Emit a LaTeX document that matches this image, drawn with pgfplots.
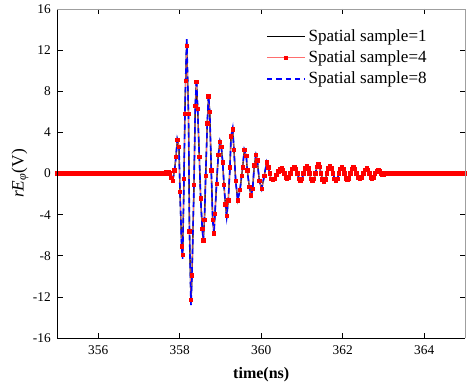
\documentclass[border=0pt]{standalone}
\usepackage{pgfplots}
\pgfplotsset{compat=1.18}
\usepackage{pgfplotstable}
\usepackage{fontspec}
\setmainfont{Liberation Serif}
\definecolor{pinkline}{RGB}{255,110,110}

\pgfplotstableread[row sep=\\]{
t s1 s4 s8 \\
355.000 0 0 0 \\ 355.025 0 0 0 \\ 355.050 0 0 0 \\ 355.075 0 0 0 \\
355.100 0 0 0 \\ 355.125 0 0 0 \\ 355.150 0 0 0 \\ 355.175 0 0 0 \\
355.200 0 0 0 \\ 355.225 0 0 0 \\ 355.250 0 0 0 \\ 355.275 0 0 0 \\
355.300 0 0 0 \\ 355.325 0 0 0 \\ 355.350 0 0 0 \\ 355.375 0 0 0 \\
355.400 0 0 0 \\ 355.425 0 0 0 \\ 355.450 0 0 0 \\ 355.475 0 0 0 \\
355.500 0 0 0 \\ 355.525 0 0 0 \\ 355.550 0 0 0 \\ 355.575 0 0 0 \\
355.600 0 0 0 \\ 355.625 0 0 0 \\ 355.650 0 0 0 \\ 355.675 0 0 0 \\
355.700 0 0 0 \\ 355.725 0 0 0 \\ 355.750 0 0 0 \\ 355.775 0 0 0 \\
355.800 0 0 0 \\ 355.825 0 0 0 \\ 355.850 0 0 0 \\ 355.875 0 0 0 \\
355.900 0 0 0 \\ 355.925 0 0 0 \\ 355.950 0 0 0 \\ 355.975 0 0 0 \\
356.000 0 0 0 \\ 356.025 0 0 0 \\ 356.050 0 0 0 \\ 356.075 0 0 0 \\
356.100 0 0 0 \\ 356.125 0 0 0 \\ 356.150 0 0 0 \\ 356.175 0 0 0 \\
356.200 0 0 0 \\ 356.225 0 0 0 \\ 356.250 0 0 0 \\ 356.275 0 0 0 \\
356.300 0 0 0 \\ 356.325 0 0 0 \\ 356.350 0 0 0 \\ 356.375 0 0 0 \\
356.400 0 0 0 \\ 356.425 0 0 0 \\ 356.450 0 0 0 \\ 356.475 0 0 0 \\
356.500 0 0 0 \\ 356.525 0 0 0 \\ 356.550 0 0 0 \\ 356.575 0 0 0 \\
356.600 0 0 0 \\ 356.625 0 0 0 \\ 356.650 0 0 0 \\ 356.675 0 0 0 \\
356.700 0 0 0 \\ 356.725 0 0 0 \\ 356.750 0 0 0 \\ 356.775 0 0 0 \\
356.800 0 0 0 \\ 356.825 0 0 0 \\ 356.850 0 0 0 \\ 356.875 0 0 0 \\
356.900 0 0 0 \\ 356.925 0 0 0 \\ 356.950 0 0 0 \\ 356.975 0 0 0 \\
357.000 0 0 0 \\ 357.025 0 0 0 \\ 357.050 0 0 0 \\ 357.075 0 0 0 \\
357.100 0 0 0 \\ 357.125 0 0 0 \\ 357.150 0 0 0 \\ 357.175 0 0 0 \\
357.200 0 0 0 \\ 357.225 0 0 0 \\ 357.250 0 0 0 \\ 357.275 0 0 0 \\
357.300 0 0 0 \\ 357.325 0 0 0 \\ 357.350 0 0 0 \\ 357.375 0 0 0 \\
357.400 0 0 0 \\ 357.425 0 0 0 \\ 357.450 0 0 0 \\ 357.475 0 0 0 \\
357.500 0 0 0 \\ 357.525 0 0 0 \\ 357.550 0 0 0 \\ 357.575 0 0 0 \\
357.600 0 0 0 \\ 357.620 0.02 0.02 0.02 \\
357.640 0.05 0.05 0.05 \\ 357.660 0.1 0.1 0.1 \\
357.680 0.15 0.15 0.15 \\ 357.715 0.1 0.1 0.1 \\
357.748 0.0 0.0 0.0 \\ 357.790 -0.4 -0.4 -0.4 \\
357.827 -0.7 -0.7 -0.7 \\
357.871 0.3 0.3 0.3 \\
357.908 1.6 1.6 1.6 \\
357.940 3.3 3.3 3.3 \\
357.982 2.6 2.6 2.6 \\
358.006 -1.8 -1.8 -1.8 \\
358.048 -7.1 -7.1 -7.1 \\
358.072 -8.1 -7.9 -8.3 \\
358.104 -0.5 -0.5 -0.5 \\
358.127 5.8 5.8 5.8 \\
358.144 9.0 9.0 9.0 \\
358.171 12.8 12.4 13.2 \\
358.215 5.8 5.8 5.8 \\
358.239 -5.6 -5.6 -5.6 \\
358.276 -12.6 -12.3 -12.8 \\
358.301 -9.9 -9.9 -9.9 \\
358.350 -1.1 -1.1 -1.1 \\
358.382 6.6 6.6 6.6 \\
358.411 9.0 8.9 9.2 \\
358.440 6.3 6.3 6.3 \\
358.480 1.6 1.6 1.6 \\
358.514 -2.4 -2.4 -2.4 \\
358.553 -5.4 -5.4 -5.4 \\
358.578 -6.5 -6.5 -6.5 \\
358.607 -4.5 -4.5 -4.5 \\
358.637 -0.2 -0.2 -0.2 \\
358.676 4.9 4.9 4.9 \\
358.706 7.5 7.5 7.6 \\
358.737 6.0 6.0 6.0 \\
358.774 0.3 0.3 0.3 \\
358.809 -4.5 -4.5 -4.5 \\
358.840 -5.8 -5.8 -5.9 \\
358.865 -3.9 -3.9 -3.9 \\
358.904 -1.0 -1.0 -1.0 \\
358.946 1.8 1.8 1.8 \\
358.988 3.1 3.1 3.1 \\
359.020 2.6 2.6 2.6 \\
359.054 1.1 1.1 1.1 \\
359.086 -1.1 -1.1 -1.1 \\
359.120 -3.0 -3.0 -3.0 \\
359.152 -4.1 -4.1 -4.2 \\
359.191 -2.6 -2.6 -2.6 \\
359.233 0.6 0.6 0.6 \\
359.258 3.6 3.6 3.6 \\
359.299 4.3 4.3 4.4 \\
359.331 2.3 2.3 2.3 \\
359.373 -0.7 -0.7 -0.7 \\
359.422 -2.6 -2.6 -2.6 \\
359.479 -1.6 -1.6 -1.6 \\
359.520 -0.2 -0.2 -0.2 \\
359.545 0.6 0.6 0.6 \\
359.584 2.3 2.3 2.3 \\
359.633 1.7 1.7 1.7 \\
359.658 0.3 0.3 0.3 \\
359.707 -1.3 -1.3 -1.3 \\
359.748 -2.1 -2.1 -2.1 \\
359.790 -1.5 -1.5 -1.5 \\
359.829 0.8 0.8 0.8 \\
359.871 1.8 1.8 1.8 \\
359.903 1.3 1.3 1.3 \\
359.952 -0.7 -0.7 -0.7 \\
360.011 -1.5 -1.5 -1.5 \\
360.075 -0.2 -0.2 -0.2 \\
360.134 1.1 1.1 1.1 \\
360.173 0.6 0.6 0.6 \\
360.205 0.0 0.0 0.0 \\
360.239 -0.5 -0.5 -0.5 \\
360.280 -0.55 -0.55 -0.55 \\
360.320 -0.5 -0.5 -0.5 \\
360.370 -0.15 -0.15 -0.15 \\
360.418 0.2 0.2 0.2 \\
360.460 0.4 0.4 0.4 \\
360.502 0.5 0.5 0.5 \\
360.536 0.3 0.3 0.3 \\
360.571 0.0 0.0 0.0 \\
360.600 -0.35 -0.35 -0.35 \\
360.632 -0.5 -0.5 -0.5 \\
360.675 -0.35 -0.35 -0.35 \\
360.718 0.0 0.0 0.0 \\
360.765 0.45 0.45 0.45 \\
360.811 0.6 0.6 0.6 \\
360.850 0.45 0.45 0.45 \\
360.890 0.0 0.0 0.0 \\
360.927 -0.5 -0.5 -0.5 \\
360.963 -0.7 -0.7 -0.7 \\
361.000 -0.5 -0.5 -0.5 \\
361.037 0.0 0.0 0.0 \\
361.076 0.5 0.5 0.5 \\
361.115 0.7 0.7 0.7 \\
361.150 0.5 0.5 0.5 \\
361.184 0.0 0.0 0.0 \\
361.221 -0.5 -0.5 -0.5 \\
361.258 -0.7 -0.7 -0.7 \\
361.295 -0.5 -0.5 -0.5 \\
361.331 0.0 0.0 0.0 \\
361.366 0.65 0.65 0.65 \\
361.400 0.9 0.9 0.9 \\
361.433 0.65 0.65 0.65 \\
361.466 0.0 0.0 0.0 \\
361.503 -0.55 -0.55 -0.55 \\
361.540 -0.8 -0.8 -0.8 \\
361.577 -0.55 -0.55 -0.55 \\
361.613 0.0 0.0 0.0 \\
361.650 0.5 0.5 0.5 \\
361.687 0.7 0.7 0.7 \\
361.724 0.5 0.5 0.5 \\
361.761 0.0 0.0 0.0 \\
361.798 -0.5 -0.5 -0.5 \\
361.834 -0.7 -0.7 -0.7 \\
361.871 -0.5 -0.5 -0.5 \\
361.908 0.0 0.0 0.0 \\
361.941 0.45 0.45 0.45 \\
361.974 0.6 0.6 0.6 \\
362.009 0.45 0.45 0.45 \\
362.043 0.0 0.0 0.0 \\
362.080 -0.45 -0.45 -0.45 \\
362.117 -0.6 -0.6 -0.6 \\
362.154 -0.45 -0.45 -0.45 \\
362.190 0.0 0.0 0.0 \\
362.225 0.45 0.45 0.45 \\
362.259 0.6 0.6 0.6 \\
362.298 0.45 0.45 0.45 \\
362.337 0.0 0.0 0.0 \\
362.380 -0.35 -0.35 -0.35 \\
362.423 -0.5 -0.5 -0.5 \\
362.464 -0.35 -0.35 -0.35 \\
362.504 0.0 0.0 0.0 \\
362.546 0.35 0.35 0.35 \\
362.588 0.5 0.5 0.5 \\
362.622 0.35 0.35 0.35 \\
362.656 0.0 0.0 0.0 \\
362.687 -0.35 -0.35 -0.35 \\
362.718 -0.5 -0.5 -0.5 \\
362.755 -0.35 -0.35 -0.35 \\
362.791 0.0 0.0 0.0 \\
362.832 0.2 0.2 0.2 \\
362.872 0.3 0.3 0.3 \\
362.906 0.2 0.2 0.2 \\
362.939 0.0 0.0 0.0 \\
362.970 -0.1 -0.1 -0.1 \\
363.000 -0.15 -0.15 -0.15 \\
363.025 0 0 0 \\ 363.050 0 0 0 \\ 363.075 0 0 0 \\
363.100 0 0 0 \\ 363.125 0 0 0 \\ 363.150 0 0 0 \\ 363.175 0 0 0 \\
363.200 0 0 0 \\ 363.225 0 0 0 \\ 363.250 0 0 0 \\ 363.275 0 0 0 \\
363.300 0 0 0 \\ 363.325 0 0 0 \\ 363.350 0 0 0 \\ 363.375 0 0 0 \\
363.400 0 0 0 \\ 363.425 0 0 0 \\ 363.450 0 0 0 \\ 363.475 0 0 0 \\
363.500 0 0 0 \\ 363.525 0 0 0 \\ 363.550 0 0 0 \\ 363.575 0 0 0 \\
363.600 0 0 0 \\ 363.625 0 0 0 \\ 363.650 0 0 0 \\ 363.675 0 0 0 \\
363.700 0 0 0 \\ 363.725 0 0 0 \\ 363.750 0 0 0 \\ 363.775 0 0 0 \\
363.800 0 0 0 \\ 363.825 0 0 0 \\ 363.850 0 0 0 \\ 363.875 0 0 0 \\
363.900 0 0 0 \\ 363.925 0 0 0 \\ 363.950 0 0 0 \\ 363.975 0 0 0 \\
364.000 0 0 0 \\ 364.025 0 0 0 \\ 364.050 0 0 0 \\ 364.075 0 0 0 \\
364.100 0 0 0 \\ 364.125 0 0 0 \\ 364.150 0 0 0 \\ 364.175 0 0 0 \\
364.200 0 0 0 \\ 364.225 0 0 0 \\ 364.250 0 0 0 \\ 364.275 0 0 0 \\
364.300 0 0 0 \\ 364.325 0 0 0 \\ 364.350 0 0 0 \\ 364.375 0 0 0 \\
364.400 0 0 0 \\ 364.425 0 0 0 \\ 364.450 0 0 0 \\ 364.475 0 0 0 \\
364.500 0 0 0 \\ 364.525 0 0 0 \\ 364.550 0 0 0 \\ 364.575 0 0 0 \\
364.600 0 0 0 \\ 364.625 0 0 0 \\ 364.650 0 0 0 \\ 364.675 0 0 0 \\
364.700 0 0 0 \\ 364.725 0 0 0 \\ 364.750 0 0 0 \\ 364.775 0 0 0 \\
364.800 0 0 0 \\ 364.825 0 0 0 \\ 364.850 0 0 0 \\ 364.875 0 0 0 \\
364.900 0 0 0 \\ 364.925 0 0 0 \\ 364.950 0 0 0 \\ 364.975 0 0 0 \\
365.000 0 0 0 \\
}\wave

\begin{document}
\begin{tikzpicture}
\begin{axis}[
  scale only axis,
  width=305.6pt, height=246.75pt,
  at={(0,0)}, anchor=south west,
  xmin=355, xmax=365, ymin=-16, ymax=16,
  xtick={356,358,360,362,364},
  ytick={-16,-12,-8,-4,0,4,8,12,16},
  tick align=inside, tick pos=both,
  major tick length=3.8pt,
  tick style={black, line width=0.6pt},
  axis line style={draw=none},
  /pgf/number format/assume math mode=true,
  ticklabel style={font=\fontsize{10}{12}\selectfont},
  xticklabel style={yshift=-2pt},
  yticklabel style={xshift=-1.5pt},
  xlabel={\textbf{time(ns)}},
  xlabel style={font=\fontsize{12}{14}\selectfont, at={(axis description cs:0.5,-0.1125)}, anchor=center},
  ylabel={\textit{rE}\textsubscript{\textit{φ}}(V)},
  ylabel style={font=\fontsize{13}{15}\selectfont, at={(axis description cs:-0.092,0.5)}, anchor=center},
  legend style={draw=none, fill=none, at={(0.502,0.955)}, anchor=north west,
    font=\fontsize{12.8}{15}\selectfont, row sep=1.6pt},
  legend cell align=left,
  legend image code/.code={\draw[mark repeat=2,mark phase=2,#1] plot coordinates {(0cm,0cm) (0.5cm,0cm) (1cm,0cm)};},
  clip=true,
  after end axis/.code={
    \draw[black, line width=0.6pt] (rel axis cs:0,1) -- (rel axis cs:0,0) -- (rel axis cs:1,0);
    \draw[gray!75, line width=0.7pt] (rel axis cs:0,1) -- (rel axis cs:1,1) -- (rel axis cs:1,0);
  },
]
\addplot[black, line width=1pt, no marks] table[x=t, y=s1] {\wave};
\addlegendentry{Spatial sample=1}
\addplot[color=pinkline, line width=0.5pt, mark=square*, mark size=1.3pt, mark options={solid, fill=red, draw=red}] table[x=t, y=s4] {\wave};
\addlegendentry{Spatial sample=4}
\addplot[blue, line width=1.2pt, dash pattern=on 4pt off 3pt, no marks] table[x=t, y=s8] {\wave};
\addlegendentry{Spatial sample=8}
\end{axis}
\pgfresetboundingbox
\useasboundingbox (-43.1pt,-37.5pt) rectangle (310.1pt,253.5pt);
\end{tikzpicture}
\end{document}
